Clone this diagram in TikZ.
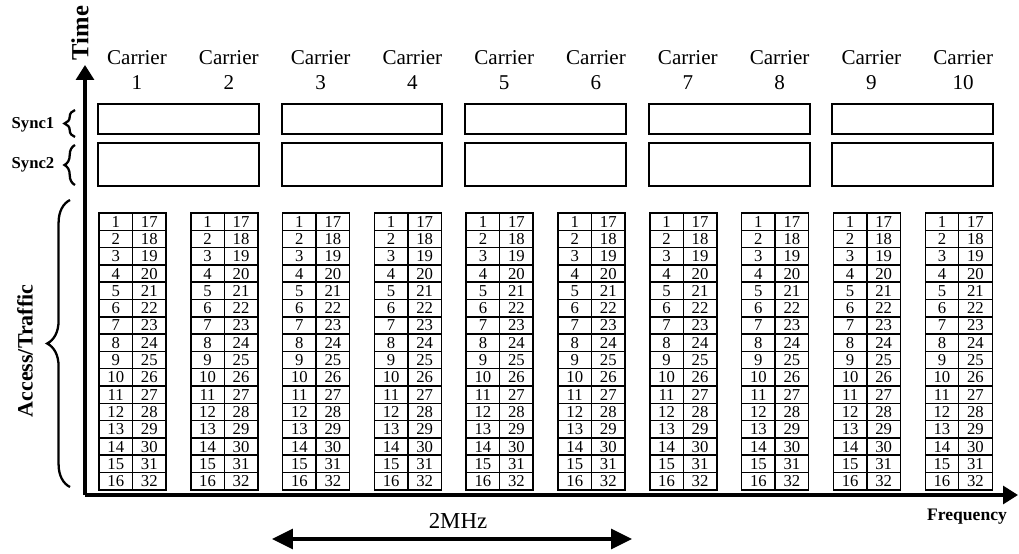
\documentclass[tikz,border=0pt]{standalone}
\usepackage{fontspec}
\setmainfont{Liberation Serif}
\usetikzlibrary{arrows.meta,decorations.pathreplacing}
\tikzset{
  cell/.style={draw,line width=0.8pt,inner sep=0pt,minimum width=33.5*0.02cm,
    minimum height=17.3*0.02cm,font=\fontsize{9.5}{10}\selectfont},
  syncbox/.style={draw,line width=1.1pt},
  carrier/.style={align=center,font=\fontsize{12}{14}\selectfont},
  axislabel/.style={font=\bfseries\fontsize{10}{12}\selectfont},
  axis/.style={line width=1.8pt,-{Triangle[length=0.3cm,width=0.36cm]}},
  curly/.style={decorate,line width=1.3pt,decoration={brace,amplitude=#1}}
}
\begin{document}
\begin{tikzpicture}[x=0.02cm,y=-0.02cm,>=stealth]
    \useasboundingbox (0,0) rectangle (1019,554);
    \coordinate (origin) at (85,495);
    \coordinate (timeend) at (85,65);
    \coordinate (freqend) at (1018,495);
    \draw[axis] (origin) -- (timeend);
    \draw[axis] (origin) -- (freqend);
    \node[font=\bfseries\fontsize{14}{16}\selectfont,rotate=90] (time) at (80,33) {Time};
    \node[axislabel] (frequency) at (967,517) {Frequency};
    \foreach \c in {1,...,10} {
      \pgfmathsetmacro{\xl}{99+(\c-1)*91.8}
      \node[carrier] (carrier\c) at (\xl+38,70) {Carrier\\\c};
      \foreach \r in {1,...,16} {
        \pgfmathtruncatemacro{\s}{\r+16}
        \node[cell] (a\c-\r) at (\xl+16.75,213+\r*17.3-8.65) {\r};
        \node[cell] (b\c-\r) at (\xl+50.25,213+\r*17.3-8.65) {\s};
      }
    }
    \foreach \k in {1,...,5} {
      \pgfmathsetmacro{\xa}{98+(2*\k-2)*91.8}
      \pgfmathsetmacro{\xb}{99+(2*\k-1)*91.8+68}
      \draw[syncbox] (\xa,104) rectangle (\xb,134);
      \draw[syncbox] (\xa,143) rectangle (\xb,186);
    }
    \node[axislabel,font=\bfseries\fontsize{9.5}{11}\selectfont] (sync1) at (33,125) {Sync1};
    \node[axislabel,font=\bfseries\fontsize{9.5}{11}\selectfont] (sync2) at (33,165) {Sync2};
    \draw[curly=6pt] (75,137) -- (75,110);
    \draw[curly=6pt] (75,185) -- (75,145);
    \draw[curly=13pt] (70,487) -- (70,200);
    \node[font=\bfseries\fontsize{12.5}{14}\selectfont,rotate=90] (access) at (25,351) {Access/Traffic};
    \coordinate (bwleft) at (272,539);
    \coordinate (bwright) at (632,539);
    \draw[line width=1.8pt,{Triangle[length=0.42cm,width=0.4cm]}-{Triangle[length=0.42cm,width=0.4cm]}]
      (bwleft) -- (bwright);
    \node[font=\fontsize{13}{15}\selectfont] (bw) at (458,521) {2MHz};
  \end{tikzpicture}
\end{document}
